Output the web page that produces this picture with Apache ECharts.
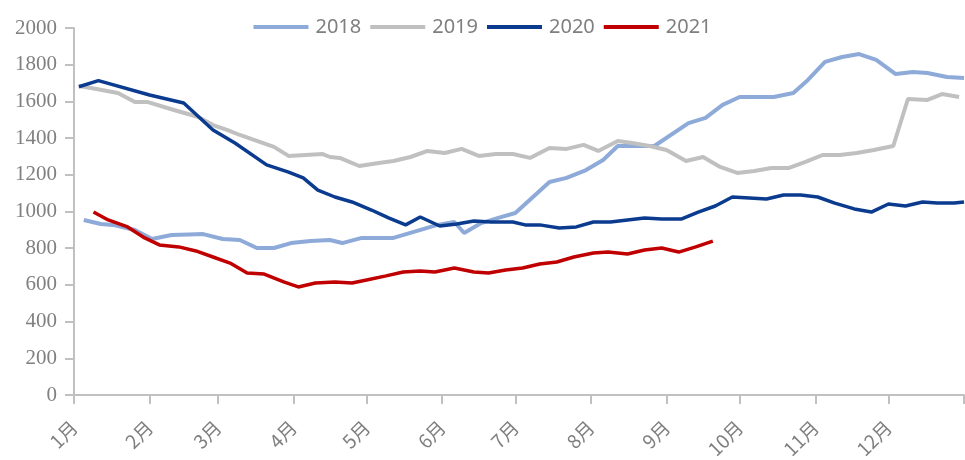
<!DOCTYPE html>
<html><head><meta charset="utf-8">
<script src="https://cdn.jsdelivr.net/npm/echarts@6/dist/echarts.min.js"></script>
<style>html,body{margin:0;padding:0;background:#fff}#c{width:965px;height:460px}</style>
</head><body><div id="c"></div>
<script>
const monthLabels = ['1月','2月','3月','4月','5月','6月','7月','8月','9月','10月','11月','12月'];
const monthStartDays = [0,31,59,90,120,151,181,212,243,273,304,334];
const seriesNames = ['2018','2019','2020','2021'];

const days2018 = [4,11,16,25,32,40,47,53,61,68,75,82,89,97,105,110,118,131,139,149,156,160,167,174,181,195,202,210,217,223,229,238,252,259,266,273,287,295,301,308,315,322,329,337,344,350,358,365];
const values2018 = [954,932,927,899,850,872,875,877,850,845,801,801,828,839,845,828,856,856,888,927,943,883,937,965,992,1161,1183,1226,1281,1357,1357,1357,1482,1510,1581,1624,1624,1646,1717,1815,1842,1858,1826,1749,1760,1755,1733,1728];

const days2019 = [2,7,18,25,30,41,51,57,63,68,82,88,102,105,109,117,125,131,138,145,152,159,166,173,180,187,195,202,209,215,223,229,236,243,251,258,265,272,279,286,293,300,307,314,321,328,336,342,350,356,363];
const values2019 = [1684,1673,1646,1597,1597,1553,1515,1471,1444,1417,1352,1303,1313,1297,1292,1248,1264,1275,1297,1330,1319,1341,1303,1313,1313,1292,1346,1341,1363,1330,1384,1373,1357,1335,1275,1297,1243,1210,1221,1237,1237,1270,1308,1308,1319,1335,1357,1613,1608,1640,1624];

const days2020 = [2,10,31,45,57,66,79,88,94,100,107,114,122,129,136,142,150,157,164,171,180,185,191,199,206,213,220,227,234,241,249,256,263,270,277,284,291,298,305,312,320,327,334,341,348,354,361,365];
const values2020 = [1680,1713,1635,1591,1444,1373,1254,1215,1183,1117,1079,1052,1008,965,927,970,921,932,948,943,943,927,927,910,916,943,943,954,965,959,959,997,1030,1079,1074,1068,1090,1090,1079,1046,1014,997,1041,1030,1052,1046,1046,1052];

const days2021 = [8,14,22,29,35,43,50,57,64,71,78,86,92,99,107,114,120,128,135,142,148,156,164,170,177,184,191,198,205,213,219,227,234,241,248,255,262];
const values2021 = [997,954,916,856,818,807,785,752,719,665,659,616,589,610,616,610,627,649,670,676,670,692,670,665,681,692,714,725,752,774,779,768,790,801,779,807,839];

const colors = ['#8eaad8','#c0c0c0','#0b3b8f','#c00000'];
const widths = [4,4,3.5,3.5];
const allDays = [days2018, days2019, days2020, days2021];
const allValues = [values2018, values2019, values2020, values2021];

const chart = echarts.init(document.getElementById('c'), null, {renderer:'canvas'});
chart.setOption({
  animation: false,
  color: colors,
  grid: {left: 74, right: 1, top: 28, bottom: 65, containLabel: false, outerBoundsMode: 'none'},
  legend: {
    top: 12, left: 'center',
    icon: 'rect', itemWidth: 55, itemHeight: 4, itemGap: 9,
    textStyle: {fontSize: 20, color: '#7f7f7f', fontFamily: 'Noto Sans', padding: [0,0,0,2]},
    data: seriesNames
  },
  xAxis: {
    type: 'value', min: 0, max: 365,
    axisLine: {show: true, lineStyle: {color: '#c0c0c0', width: 2}},
    axisTick: {show: true, length: 9, lineStyle: {color: '#c0c0c0', width: 2}, customValues: monthStartDays.concat([365])},
    axisLabel: {
      customValues: monthStartDays,
      rotate: 45, margin: 29,
      fontSize: 19, color: '#7f7f7f', fontFamily: 'Noto Sans CJK SC',
      formatter: v => monthLabels[monthStartDays.indexOf(v)] || ''
    },
    splitLine: {show: false}
  },
  yAxis: {
    type: 'value', min: 0, max: 2000, interval: 200,
    axisLine: {show: true, lineStyle: {color: '#c0c0c0', width: 2}},
    axisTick: {show: true, length: 9, lineStyle: {color: '#c0c0c0', width: 2}},
    axisLabel: {
      margin: 17, fontSize: 21, color: '#808080', fontFamily: 'serif',
      formatter: v => String(v)
    },
    splitLine: {show: false}
  },
  series: seriesNames.map((name, i) => ({
    name, type: 'line', showSymbol: false, symbol: 'none',
    lineStyle: {width: widths[i], color: colors[i]},
    data: allDays[i].map((d, k) => [d, allValues[i][k]])
  }))
});
</script></body></html>
